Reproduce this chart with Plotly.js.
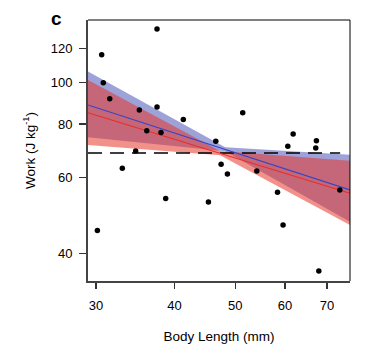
<!DOCTYPE html>
<html>
<head>
<meta charset="utf-8">
<script src="https://cdn.plot.ly/plotly-3.0.1.min.js"></script>
<style>html,body{margin:0;padding:0;background:#fff;}#chart{width:387px;height:358px;}</style>
</head>
<body>
<div id="chart"></div>
<script>
// Data points (body length in mm, work in J/kg)
const bodyLength = [30.63, 30.81, 31.55, 37.53, 35.17, 37.53, 36.14, 38.08, 41.33, 51.4, 46.56, 34.70, 33.04, 38.74, 30.15, 47.48, 48.59, 45.32, 54.13, 60.65, 61.85, 67.36, 67.2, 58.4, 73.4, 59.6, 67.96];
const work = [115.9, 99.8, 91.6, 133.1, 86.2, 87.6, 77.2, 76.5, 82.0, 85.0, 73.0, 69.2, 63.1, 53.7, 45.2, 64.5, 61.2, 52.7, 62.2, 71.0, 75.8, 73.1, 70.4, 55.5, 56.2, 46.6, 36.4];

// Blue fit and confidence band
const blueFitX = [29.13, 76.2];
const blueFitY = [88.6, 56.2];
const blueBandX = [29.13, 48.2, 76.2];
const blueUpper = [106.0, 70.6, 67.9];
const blueLower = [74.5, 69.1, 47.4];

// Red fit and confidence band
const redFitX = [29.13, 76.2];
const redFitY = [85.0, 55.2];
const redBandX = [29.13, 47.3, 76.2];
const redUpper = [101.3, 69.2, 65.7];
const redLower = [71.5, 67.7, 46.6];

// Dashed reference line
const meanX = [29.13, 73.5];
const meanY = [68.5, 68.5];

// Ticks
const xTicks = [30, 40, 50, 60, 70];
const yTicks = [40, 60, 80, 100, 120];

function poly(xs, up, lo) {
  return {
    x: xs.concat(xs.slice().reverse()),
    y: up.concat(lo.slice().reverse())
  };
}
const bp = poly(blueBandX, blueUpper, blueLower);
const rp = poly(redBandX, redUpper, redLower);

const traces = [
  {x: bp.x, y: bp.y, type: 'scatter', mode: 'lines', fill: 'toself',
   fillcolor: 'rgba(60,70,180,0.5)', line: {width: 0}, hoverinfo: 'skip'},
  {x: rp.x, y: rp.y, type: 'scatter', mode: 'lines', fill: 'toself',
   fillcolor: 'rgba(232,52,42,0.55)', line: {width: 0}, hoverinfo: 'skip'},
  {x: meanX, y: meanY, type: 'scatter', mode: 'lines',
   line: {color: '#000', width: 1.3, dash: '14px,8px'}},
  {x: blueFitX, y: blueFitY, type: 'scatter', mode: 'lines',
   line: {color: 'rgb(50,70,200)', width: 1.1}},
  {x: redFitX, y: redFitY, type: 'scatter', mode: 'lines',
   line: {color: 'rgb(235,45,35)', width: 1.1}},
  {x: bodyLength, y: work, type: 'scatter', mode: 'markers',
   marker: {color: '#000', size: 5.5}}
];

const fam = '"Liberation Sans", Arial, Helvetica, sans-serif';
const font = {family: fam, size: 13, color: '#000'};
const titleFont = {family: fam, size: 13.5, color: '#000'};

const layout = {
  width: 387, height: 358,
  margin: {l: 88, r: 37, t: 20, b: 77},
  paper_bgcolor: '#fff', plot_bgcolor: '#fff',
  showlegend: false,
  font: font,
  xaxis: {
    type: 'log',
    range: [Math.log10(29.13), Math.log10(76.2)],
    tickvals: xTicks, ticktext: xTicks.map(String),
    showgrid: false, zeroline: false,
    showline: true, linecolor: '#444', linewidth: 2,
    ticks: 'outside', ticklen: 6, tickwidth: 1.3, tickcolor: '#333',
    tickfont: font, ticklabelstandoff: 5,
    title: {text: 'Body Length (mm)', font: titleFont, standoff: 20}
  },
  yaxis: {
    type: 'log',
    range: [Math.log10(34.5), Math.log10(139.7)],
    tickvals: yTicks, ticktext: yTicks.map(String),
    showgrid: false, zeroline: false,
    showline: true, linecolor: '#444', linewidth: 2,
    ticks: 'outside', ticklen: 7, tickwidth: 1.3, tickcolor: '#333',
    tickfont: font, ticklabelstandoff: 4,
    title: {text: 'Work (J kg<sup>-1</sup>)', font: titleFont, standoff: 12}
  },
  shapes: [
    {type: 'line', xref: 'paper', yref: 'paper', x0: 0, x1: 1, y0: 1, y1: 1,
     line: {color: '#000', width: 1}},
    {type: 'line', xref: 'paper', yref: 'paper', x0: 1, x1: 1, y0: 0, y1: 1,
     line: {color: '#000', width: 1}}
  ],
  annotations: [
    {text: '<b>c</b>', xref: 'paper', yref: 'paper', x: -0.148, y: 1.005,
     xanchor: 'left', yanchor: 'middle', showarrow: false,
     font: {family: fam, size: 19, color: '#000'}}
  ]
};

Plotly.newPlot('chart', traces, layout, {displayModeBar: false, staticPlot: true});
</script>
</body>
</html>
